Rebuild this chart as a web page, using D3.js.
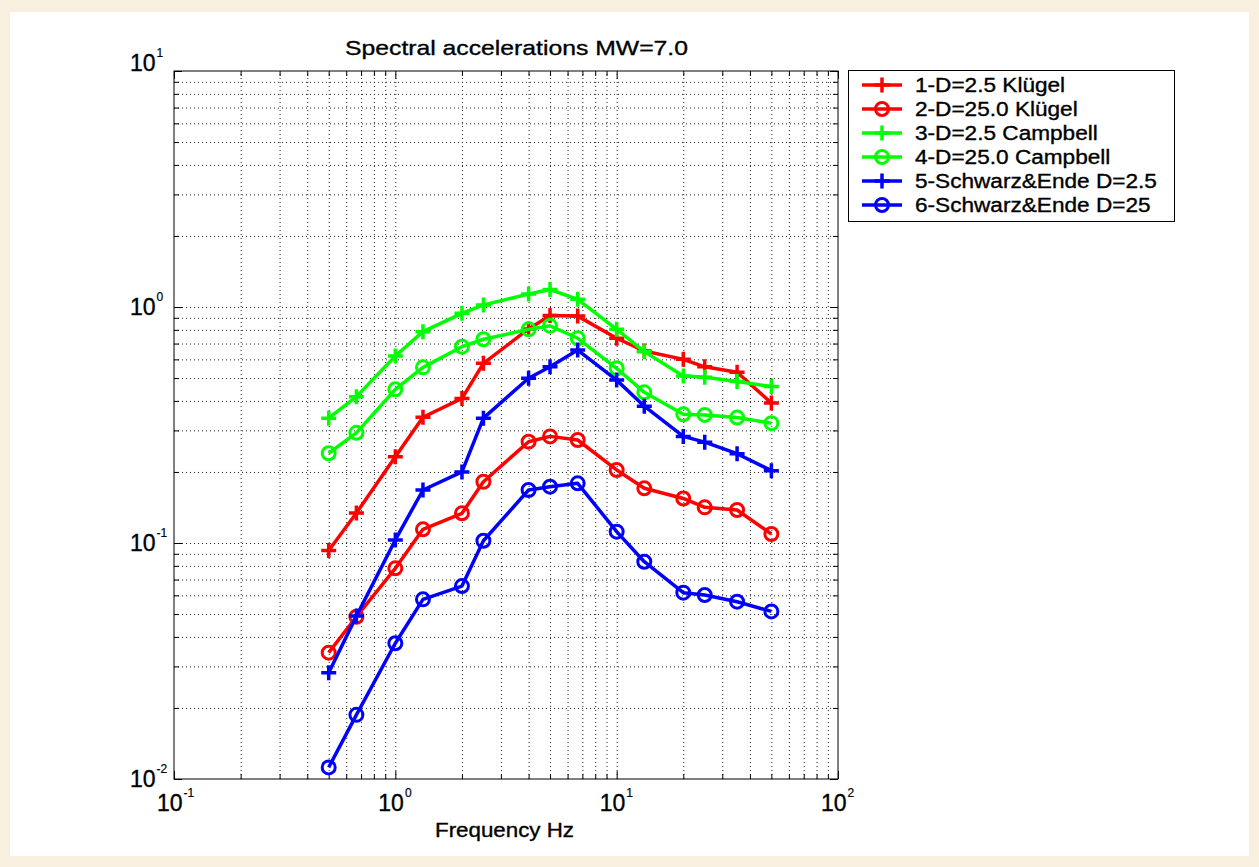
<!DOCTYPE html>
<html>
<head>
<meta charset="utf-8">
<script src="https://cdn.jsdelivr.net/npm/d3@7"></script>
<style>
  html, body { margin: 0; padding: 0; background: #f8efdf; }
  svg { display: block; }
  text { font-family: "Liberation Sans", Arial, sans-serif; fill: #000; stroke: #000; stroke-width: 0.35px; }
</style>
</head>
<body>
<svg id="chart" width="1259" height="867"></svg>
<script>
// Frequencies (Hz) shared by every series
const frequencies = [0.5, 0.667, 1, 1.333, 2, 2.5, 4, 5, 6.667, 10, 13.33, 20, 25, 35, 50];

// Spectral accelerations for each model / distance
const kluegelD2_5   = [0.093, 0.134, 0.232, 0.341, 0.410, 0.577, 0.807, 0.92, 0.915, 0.737, 0.651, 0.600, 0.558, 0.529, 0.392];
const kluegelD25    = [0.0343, 0.0487, 0.0781, 0.1143, 0.1336, 0.1818, 0.2687, 0.2830, 0.2732, 0.2039, 0.1705, 0.1544, 0.1416, 0.1380, 0.1092];
const campbellD2_5  = [0.338, 0.417, 0.620, 0.786, 0.940, 1.02, 1.135, 1.186, 1.078, 0.804, 0.647, 0.510, 0.504, 0.483, 0.460];
const campbellD25   = [0.240, 0.293, 0.448, 0.555, 0.679, 0.730, 0.804, 0.832, 0.737, 0.550, 0.435, 0.351, 0.349, 0.340, 0.322];
const schwarzD2_5   = [0.0282, 0.0490, 0.1030, 0.1677, 0.200, 0.338, 0.499, 0.558, 0.657, 0.490, 0.380, 0.283, 0.2675, 0.239, 0.2025];
const schwarzD25    = [0.0112, 0.0187, 0.0376, 0.0577, 0.0657, 0.1022, 0.1677, 0.1732, 0.1790, 0.1117, 0.0833, 0.0616, 0.0602, 0.0564, 0.0513];

const seriesNames   = ["1-D=2.5 Klügel", "2-D=25.0 Klügel", "3-D=2.5 Campbell",
                       "4-D=25.0 Campbell", "5-Schwarz&Ende D=2.5", "6-Schwarz&Ende D=25"];
const seriesValues  = [kluegelD2_5, kluegelD25, campbellD2_5, campbellD25, schwarzD2_5, schwarzD25];
const seriesColors  = ["#ff0000", "#ff0000", "#00ff00", "#00ff00", "#0000ff", "#0000ff"];
const seriesMarkers = ["plus", "circle", "plus", "circle", "plus", "circle"];

const titleText = "Spectral accelerations MW=7.0";
const xLabelText = "Frequency Hz";
const xDecadeExponents = [-1, 0, 1, 2];
const yDecadeExponents = [-2, -1, 0, 1];

const svg = d3.select("#chart");

// white page area inside the tinted frame
svg.append("rect").attr("x", 10).attr("y", 12).attr("width", 1239).attr("height", 844).attr("fill", "#ffffff");

const plot = { left: 174, right: 838, top: 71, bottom: 779 };
const x = d3.scaleLog().domain([0.1, 100]).range([plot.left, plot.right]);
const y = d3.scaleLog().domain([0.01, 10]).range([plot.bottom, plot.top]);

// every decade subdivision 1..9 for grid and ticks
function logSteps(lo, hi) {
  const out = [];
  for (let e = Math.log10(lo); e < Math.log10(hi); e++) {
    for (let k = 1; k <= 9; k++) out.push(k * Math.pow(10, e));
  }
  out.push(hi);
  return out;
}
const xSteps = logSteps(0.1, 100);
const ySteps = logSteps(0.01, 10);
const isMajor = v => Math.abs(Math.log10(v) - Math.round(Math.log10(v))) < 1e-9;

const h = plot.bottom - plot.top, w = plot.right - plot.left;

// dotted grid
const gx = svg.append("g").attr("transform", `translate(0,${plot.bottom})`)
  .call(d3.axisBottom(x).tickValues(xSteps.filter(v => v > 0.1 && v < 100)).tickSize(-h).tickFormat(""));
const gy = svg.append("g").attr("transform", `translate(${plot.left},0)`)
  .call(d3.axisLeft(y).tickValues(ySteps.filter(v => v > 0.01 && v < 10)).tickSize(-w).tickFormat(""));
[gx, gy].forEach(g => {
  g.select(".domain").remove();
  g.selectAll("line").attr("stroke", "#222").attr("stroke-width", 1).attr("stroke-dasharray", "1,3");
});

// inward ticks on all four sides
function tickAxis(axisFn, scale, values, size, transform) {
  const g = svg.append("g").attr("transform", transform)
    .call(axisFn(scale).tickValues(values).tickSize(-size).tickFormat(""));
  g.select(".domain").remove();
  g.selectAll("line").attr("stroke", "#000").attr("stroke-width", 1);
}
const xMinor = xSteps.filter(v => !isMajor(v)), xMajor = xSteps.filter(isMajor);
const yMinor = ySteps.filter(v => !isMajor(v)), yMajor = ySteps.filter(isMajor);
tickAxis(d3.axisBottom, x, xMinor, 5, `translate(0,${plot.bottom})`);
tickAxis(d3.axisBottom, x, xMajor, 8, `translate(0,${plot.bottom})`);
tickAxis(d3.axisTop, x, xMinor, 5, `translate(0,${plot.top})`);
tickAxis(d3.axisTop, x, xMajor, 8, `translate(0,${plot.top})`);
tickAxis(d3.axisLeft, y, yMinor, 5, `translate(${plot.left},0)`);
tickAxis(d3.axisLeft, y, yMajor, 8, `translate(${plot.left},0)`);
tickAxis(d3.axisRight, y, yMinor, 5, `translate(${plot.right},0)`);
tickAxis(d3.axisRight, y, yMajor, 8, `translate(${plot.right},0)`);

// axes box
svg.append("rect").attr("x", plot.left).attr("y", plot.top).attr("width", w).attr("height", h)
  .attr("fill", "none").attr("stroke", "#000").attr("stroke-width", 1);

// power-of-ten tick labels
xDecadeExponents.forEach(e => {
  const t = svg.append("text").attr("x", x(Math.pow(10, e)) - 17).attr("y", 811)
    .style("font-size", "23px");
  t.append("tspan").text("10");
  t.append("tspan").attr("dy", -14).attr("dx", 1).style("font-size", "12px").style("stroke-width", "0.2px").text(e);
});
yDecadeExponents.forEach(e => {
  const yy = y(Math.pow(10, e)) + (e === 1 ? 0 : 8);
  const t = svg.append("text").attr("x", 130).attr("y", yy).style("font-size", "23px");
  t.append("tspan").text("10");
  t.append("tspan").attr("dy", -14).attr("dx", 1).style("font-size", "12px").style("stroke-width", "0.2px").text(e);
});

// title and axis label
svg.append("text").attr("x", 345).attr("y", 55).style("font-size", "21px")
  .attr("textLength", 343).attr("lengthAdjust", "spacingAndGlyphs").text(titleText);
svg.append("text").attr("x", 435).attr("y", 837).style("font-size", "20px")
  .attr("textLength", 139).attr("lengthAdjust", "spacingAndGlyphs").text(xLabelText);

// marker drawing
function drawMarker(g, kind, color) {
  if (kind === "plus") {
    g.append("path").attr("d", "M-7.5,0H7.5M0,-7.5V7.5").attr("stroke", color).attr("stroke-width", 3.5).attr("fill", "none");
  } else {
    g.append("circle").attr("r", 6.5).attr("stroke", color).attr("stroke-width", 3).attr("fill", "none");
  }
}

// series lines and markers
const line = d3.line().x(d => x(d[0])).y(d => y(d[1]));
seriesValues.forEach((vals, i) => {
  const pts = frequencies.map((f, j) => [f, vals[j]]);
  svg.append("path").datum(pts).attr("d", line).attr("fill", "none")
    .attr("stroke", seriesColors[i]).attr("stroke-width", 3.5).attr("stroke-linejoin", "round");
  pts.forEach(p => {
    const g = svg.append("g").attr("transform", `translate(${x(p[0])},${y(p[1])})`);
    drawMarker(g, seriesMarkers[i], seriesColors[i]);
  });
});

// legend
const legend = svg.append("g");
legend.append("rect").attr("x", 848.5).attr("y", 70.5).attr("width", 326).attr("height", 151)
  .attr("fill", "#fff").attr("stroke", "#000").attr("stroke-width", 1);
seriesNames.forEach((name, i) => {
  const cy = 85 + i * 24;
  legend.append("line").attr("x1", 862).attr("x2", 902).attr("y1", cy).attr("y2", cy)
    .attr("stroke", seriesColors[i]).attr("stroke-width", 3.5);
  const g = legend.append("g").attr("transform", `translate(882,${cy})`);
  drawMarker(g, seriesMarkers[i], seriesColors[i]);
  const t = legend.append("text").attr("x", 915).attr("y", cy + 7).style("font-size", "20px").text(name);
  const len = t.node().getComputedTextLength();
  t.attr("textLength", len * 1.13).attr("lengthAdjust", "spacingAndGlyphs");
});
</script>
</body>
</html>
